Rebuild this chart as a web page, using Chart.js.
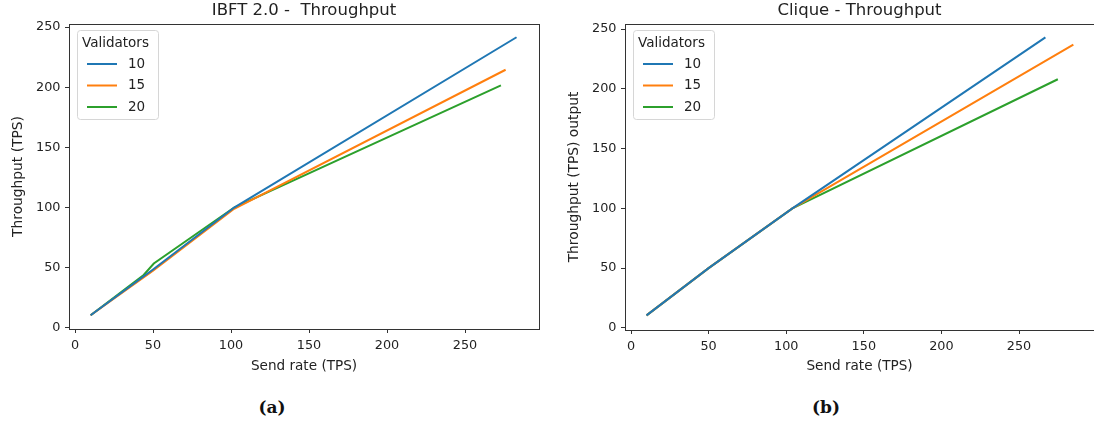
<!DOCTYPE html>
<html>
<head>
<meta charset="utf-8">
<script src="https://cdn.jsdelivr.net/npm/chart.js@4.4.1/dist/chart.umd.min.js"></script>
<style>
  body { margin: 0; background: #fff; width: 1094px; height: 430px; overflow: hidden; position: relative; }
  canvas { position: absolute; top: 0; }
  #ibftChart { left: 0; }
  #cliqueChart { left: 550px; }
  .caption { position: absolute; top: 397px; transform: translateX(-50%); font: bold 17px "DejaVu Serif", serif; color: #111; }
</style>
</head>
<body>
<canvas id="ibftChart" width="550" height="385"></canvas>
<canvas id="cliqueChart" width="560" height="385"></canvas>
<div class="caption" style="left:272px">(a)</div>
<div class="caption" style="left:826px">(b)</div>

<script>
// ---- data ----
const validatorLabels = ['10', '15', '20'];
const xTicks = [0, 50, 100, 150, 200, 250];
const yTicks = [0, 50, 100, 150, 200, 250];

// IBFT 2.0: send rate (x) vs throughput (y)
const ibftSend10 = [10, 50, 102, 283];
const ibftTps10 = [10.5, 48.5, 100, 241.5];
const ibftSend15 = [10, 50, 102, 276];
const ibftTps15 = [10.5, 47.5, 99, 214.5];
const ibftSend20 = [10, 44, 50.5, 102, 273];
const ibftTps20 = [10.5, 44, 53.5, 100, 201.5];

// Clique
const cliqueSend10 = [10, 50, 104, 267];
const cliqueTps10 = [10.5, 50, 100, 243];
const cliqueSend15 = [10, 50, 104, 285];
const cliqueTps15 = [10.5, 50, 100, 237];
const cliqueSend20 = [10, 50, 104, 275];
const cliqueTps20 = [10.5, 50, 100, 208];

const colors = ['#1f77b4', '#ff7f0e', '#2ca02c'];
const textColor = '#222';
const spineColor = '#333';
const FONT = '"DejaVu Sans", sans-serif';

const toPoints = (xs, ys) => xs.map((x, i) => ({ x, y: ys[i] }));

function makeDatasets(pairs) {
  return pairs.map(([xs, ys], i) => ({
    label: validatorLabels[i],
    data: toPoints(xs, ys),
    borderColor: colors[i],
    backgroundColor: colors[i],
    borderWidth: 2,
    pointRadius: 0,
    tension: 0
  }));
}

// top/right spines + matplotlib-style legend box
const frameAndLegend = {
  id: 'frameAndLegend',
  afterDraw(chart, args, opts) {
    const { ctx, chartArea: a } = chart;
    ctx.save();
    ctx.strokeStyle = spineColor;
    ctx.lineWidth = 1;
    ctx.strokeRect(Math.round(a.left) + 0.5, Math.round(a.top) + 0.5, Math.round(a.right - a.left), Math.round(a.bottom - a.top));

    const x = a.left + opts.x, y = a.top + opts.y;
    ctx.beginPath();
    ctx.roundRect(Math.round(x) + 0.5, Math.round(y) + 0.5, opts.w, opts.h, 3);
    ctx.fillStyle = 'rgba(255,255,255,0.8)';
    ctx.fill();
    ctx.strokeStyle = '#d6d6d6';
    ctx.stroke();

    ctx.font = '13.5px ' + FONT;
    ctx.fillStyle = textColor;
    ctx.textBaseline = 'middle';
    ctx.fillText(opts.title, x + 5, y + 13);
    chart.data.datasets.forEach((ds, i) => {
      const ly = y + 34 + i * 21.5;
      ctx.strokeStyle = ds.borderColor;
      ctx.lineWidth = 2;
      ctx.beginPath();
      ctx.moveTo(x + 10, ly);
      ctx.lineTo(x + 40, ly);
      ctx.stroke();
      ctx.fillText(ds.label, x + 51, ly);
    });
    ctx.restore();
  }
};

function makeChart(id, cfg) {
  return new Chart(document.getElementById(id), {
    type: 'line',
    data: { datasets: cfg.datasets },
    plugins: [frameAndLegend],
    options: {
      responsive: false,
      animation: false,
      devicePixelRatio: 1,
      layout: { padding: { left: 0, top: 0, right: cfg.padRight, bottom: 0 } },
      plugins: {
        legend: { display: false },
        tooltip: { enabled: false },
        title: { display: false },
        frameAndLegend: { title: 'Validators', x: 8, y: 6, w: 81, h: 89 }
      },
      scales: {
        // top axis only carries the plot title, centred over the plot area
        top: {
          type: 'linear',
          position: 'top',
          min: cfg.xMin, max: cfg.xMax,
          afterFit: s => { s.height = 24; },
          grid: { display: false },
          border: { display: false },
          ticks: { display: false },
          title: { display: true, text: cfg.title, color: textColor, font: { family: FONT, size: 16.5 }, padding: { top: 1, bottom: 0 } }
        },
        x: {
          type: 'linear',
          position: 'bottom',
          min: cfg.xMin, max: cfg.xMax,
          afterBuildTicks: axis => { axis.ticks = xTicks.map(v => ({ value: v })); },
          afterFit: s => { s.height = cfg.xAxisHeight; },
          grid: { drawOnChartArea: false, drawTicks: true, tickLength: 4, color: spineColor },
          border: { display: true, color: spineColor },
          ticks: { color: textColor, font: { family: FONT, size: 12.8 }, padding: 5, maxRotation: 0, autoSkip: false },
          title: { display: true, text: 'Send rate (TPS)', color: textColor, font: { family: FONT, size: 13.6 }, padding: { top: 0, bottom: 10.7 } }
        },
        y: {
          type: 'linear',
          min: cfg.yMin, max: cfg.yMax,
          afterBuildTicks: axis => { axis.ticks = yTicks.map(v => ({ value: v })); },
          afterFit: s => { s.width = cfg.yAxisWidth; },
          grid: { drawOnChartArea: false, drawTicks: true, tickLength: 4, color: spineColor },
          border: { display: true, color: spineColor },
          ticks: { color: textColor, font: { family: FONT, size: 12.8 }, padding: 4.5, autoSkip: false },
          title: { display: true, text: cfg.yTitle, color: textColor, font: { family: FONT, size: 13.8 }, padding: { top: cfg.yTitlePad, bottom: 0 } }
        }
      }
    }
  });
}

makeChart('ibftChart', {
  title: 'IBFT 2.0 -  Throughput',
  yTitle: 'Throughput (TPS)',
  datasets: makeDatasets([[ibftSend10, ibftTps10], [ibftSend15, ibftTps15], [ibftSend20, ibftTps20]]),
  xMin: -3.85, xMax: 297.4, yMin: -0.9, yMax: 252.5,
  padRight: 11, yAxisWidth: 69, xAxisHeight: 56, yTitlePad: 9.7
});

makeChart('cliqueChart', {
  title: 'Clique - Throughput',
  yTitle: 'Throughput (TPS) output',
  datasets: makeDatasets([[cliqueSend10, cliqueTps10], [cliqueSend15, cliqueTps15], [cliqueSend20, cliqueTps20]]),
  xMin: -3.87, xMax: 298.3, yMin: -1.7, yMax: 254.2,
  padRight: 16, yAxisWidth: 75, xAxisHeight: 55, yTitlePad: 16.2
});
</script>
</body>
</html>
